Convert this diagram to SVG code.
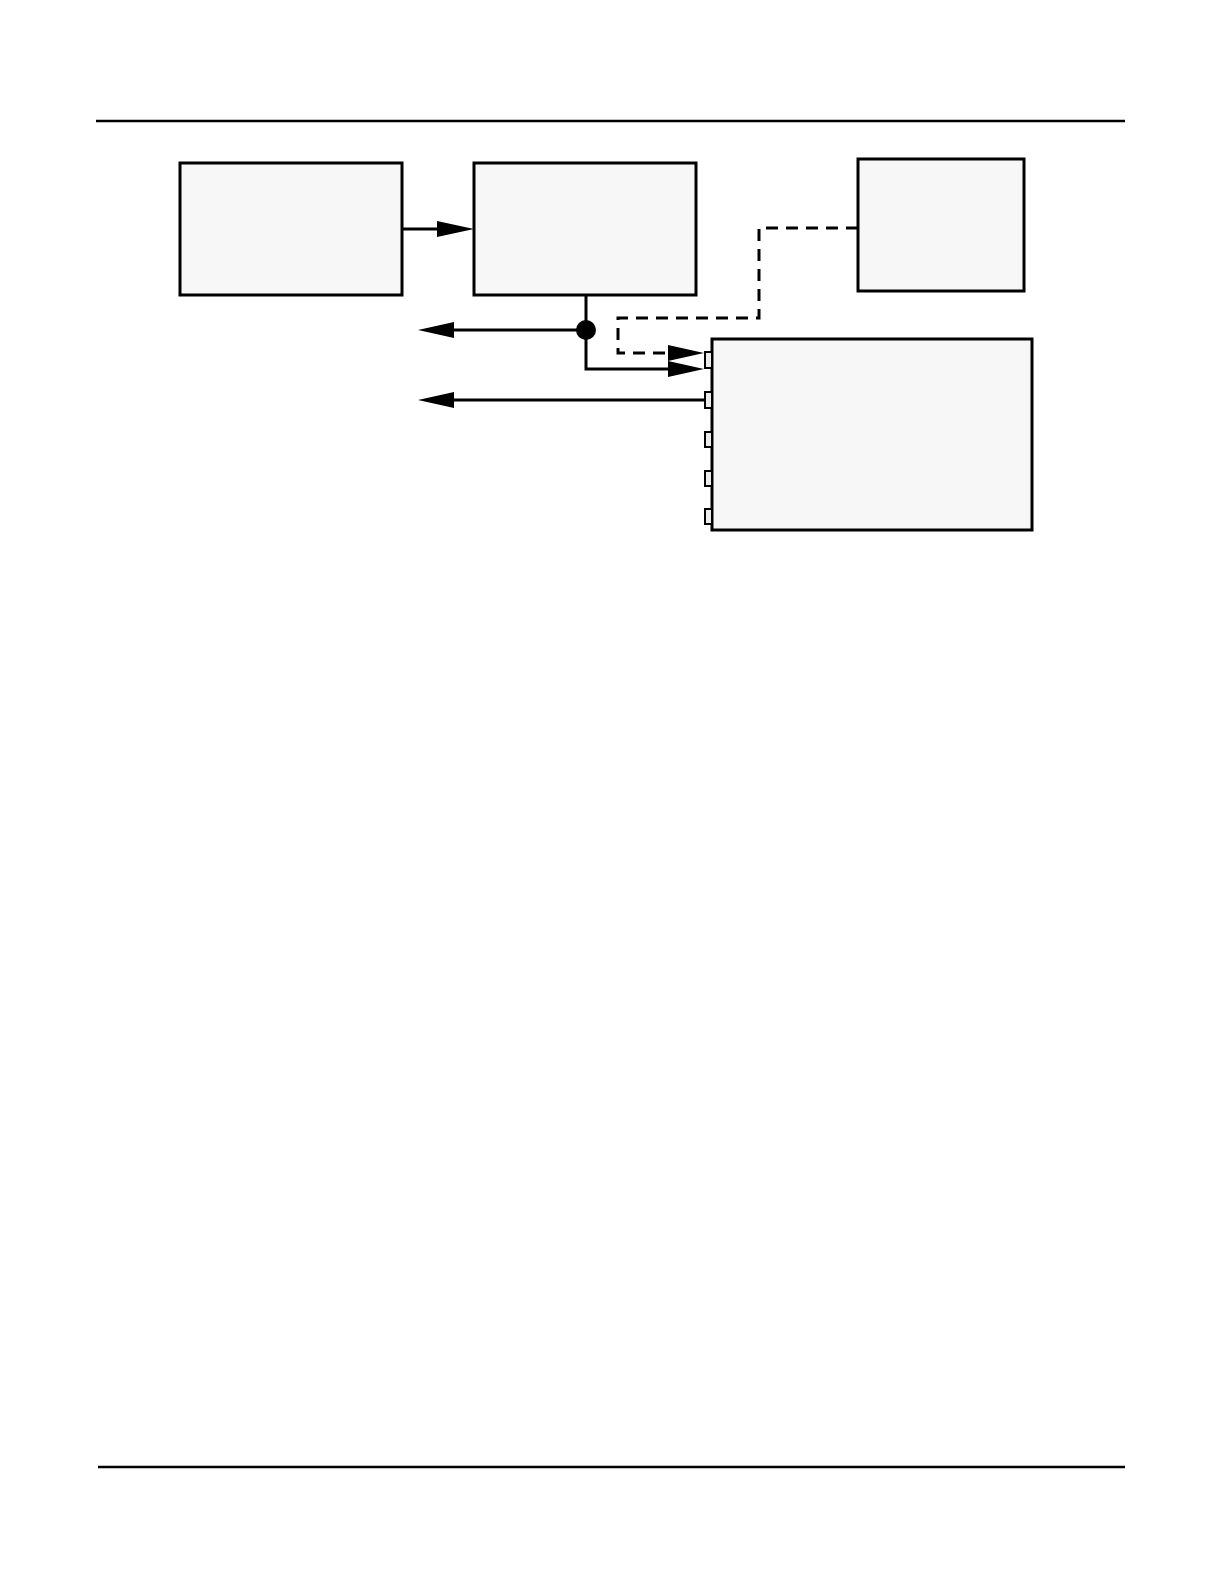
<svg xmlns="http://www.w3.org/2000/svg" width="1224" height="1584" viewBox="0 0 1224 1584">
<defs>
<style>
.box{fill:#f7f7f7;stroke:#000;stroke-width:3}
.port{fill:#ececec;stroke:#000;stroke-width:2}
.rule{stroke:#000;stroke-width:2.5}
.ln{fill:none;stroke:#000;stroke-width:3}
.dash{fill:none;stroke:#000;stroke-width:3;stroke-dasharray:12,8}
.ah{fill:#000}
</style>
</defs>
<rect width="1224" height="1584" fill="#fff"/>
<line class="rule" x1="96" y1="121" x2="1125" y2="121"/>
<line class="rule" x1="98" y1="1467" x2="1125" y2="1467"/>
<g id="node1"><rect class="box" x="180" y="163" width="222" height="132"/></g>
<g id="node2"><rect class="box" x="474" y="163" width="222" height="132"/></g>
<g id="node3"><rect class="box" x="858" y="159" width="166" height="132"/></g>
<g id="node4">
<rect class="box" x="712" y="339" width="320" height="191"/>
<rect class="port" x="705" y="352" width="7" height="16"/>
<rect class="port" x="705" y="392" width="7" height="16"/>
<rect class="port" x="705" y="432" width="7" height="15"/>
<rect class="port" x="705" y="471" width="7" height="15"/>
<rect class="port" x="705" y="509" width="7" height="15"/>
</g>
<g id="connectors">
<line class="ln" x1="402" y1="229" x2="440" y2="229"/>
<polygon class="ah" points="474,229 437,221 437,237"/>
<polyline class="ln" points="586,295 586,369 670,369"/>
<polygon class="ah" points="704,369 668,361 668,377"/>
<line class="ln" x1="586" y1="330" x2="450" y2="330"/>
<polygon class="ah" points="418,330 454,322 454,338"/>
<circle cx="586" cy="330" r="10" fill="#000"/>
<line class="ln" x1="704" y1="400" x2="450" y2="400"/>
<polygon class="ah" points="418,400 454,392 454,408"/>
<polyline class="dash" points="858,228 759,228 759,318 618,318 618,353 672,353"/>
<polygon class="ah" points="704,353 668,345 668,361"/>
</g>
</svg>
